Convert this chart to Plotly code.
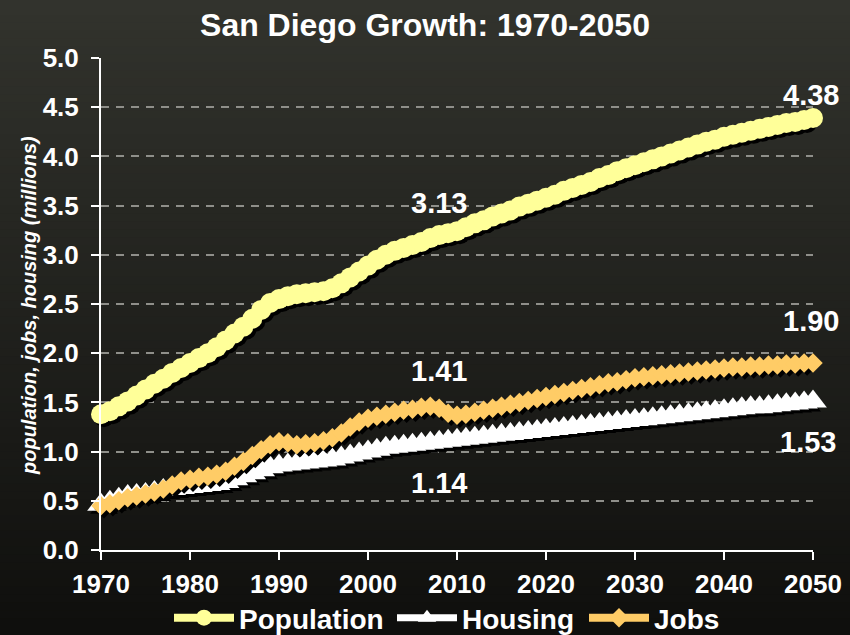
import plotly.graph_objects as go

years = list(range(1970, 2051))

population = [
    1.38, 1.41, 1.46, 1.51, 1.57, 1.63, 1.69, 1.74, 1.80, 1.85,
    1.90, 1.95, 2.00, 2.06, 2.13, 2.20, 2.27, 2.35, 2.44, 2.51,
    2.55, 2.58, 2.60, 2.61, 2.62, 2.63, 2.66, 2.71, 2.77, 2.83,
    2.89, 2.95, 3.00, 3.04, 3.07, 3.10, 3.13, 3.17, 3.20, 3.22,
    3.24, 3.28, 3.32, 3.35, 3.39, 3.42, 3.45, 3.49, 3.52, 3.55,
    3.58, 3.61, 3.65, 3.68, 3.71, 3.74, 3.78, 3.81, 3.85, 3.88,
    3.91, 3.94, 3.97, 4.00, 4.03, 4.06, 4.09, 4.12, 4.15, 4.17,
    4.20, 4.22, 4.24, 4.26, 4.28, 4.30, 4.32, 4.34, 4.35, 4.37,
    4.39,
]

housing = [
    0.46, 0.49, 0.52, 0.55, 0.56, 0.57, 0.59, 0.61, 0.62, 0.63,
    0.64, 0.65, 0.66, 0.67, 0.69, 0.72, 0.75, 0.78, 0.81, 0.84,
    0.86, 0.87, 0.88, 0.89, 0.90, 0.91, 0.92, 0.94, 0.96, 0.98,
    1.00, 1.02, 1.04, 1.05, 1.06, 1.07, 1.08, 1.09, 1.10, 1.11,
    1.12, 1.13, 1.14, 1.15, 1.16, 1.17, 1.18, 1.19, 1.20, 1.21,
    1.22, 1.23, 1.24, 1.25, 1.26, 1.27, 1.28, 1.29, 1.30, 1.31,
    1.32, 1.33, 1.34, 1.35, 1.36, 1.37, 1.38, 1.39, 1.40, 1.41,
    1.42, 1.43, 1.44, 1.45, 1.45, 1.46, 1.47, 1.48, 1.49, 1.50,
    1.51,
]

jobs = [
    0.45, 0.47, 0.50, 0.53, 0.55, 0.57, 0.59, 0.62, 0.66, 0.70,
    0.72, 0.74, 0.75, 0.77, 0.80, 0.85, 0.90, 0.96, 1.02, 1.07,
    1.10, 1.09, 1.07, 1.08, 1.09, 1.11, 1.14, 1.19, 1.25, 1.30,
    1.34, 1.36, 1.38, 1.40, 1.42, 1.43, 1.45, 1.46, 1.44, 1.39,
    1.37, 1.38, 1.40, 1.42, 1.44, 1.46, 1.48, 1.50, 1.52, 1.54,
    1.56, 1.58, 1.60, 1.62, 1.64, 1.66, 1.68, 1.70, 1.71, 1.73,
    1.75, 1.76, 1.77, 1.78, 1.79, 1.80, 1.81, 1.82, 1.83, 1.84,
    1.85, 1.86, 1.86, 1.87, 1.87, 1.88, 1.88, 1.89, 1.89, 1.90,
    1.90,
]

series_names = ["Population", "Housing", "Jobs"]
x_tick_values = list(range(1970, 2051, 10))
x_tick_labels = [str(v) for v in x_tick_values]
title_text = "San Diego Growth: 1970-2050"
y_title = "population, jobs, housing (millions)"

# labelled callouts: (year, series, text)
callouts = [
    (2050, "Population", "4.38"),
    (2008, "Population", "3.13"),
    (2050, "Jobs", "1.90"),
    (2008, "Jobs", "1.41"),
    (2050, "Housing", "1.53"),
    (2008, "Housing", "1.14"),
]

# ---------------- styling ----------------
W, H = 850, 635
ML, MR, MT, MB = 101, 37, 58, 85
PW, PH = W - ML - MR, H - MT - MB
X0, X1 = 1970, 2050
Y0, Y1 = 0, 5

styles = {
    "Population": dict(color="#FFFF99", symbol="circle", size=20, lw=8),
    "Housing": dict(color="#FFFFFF", symbol="triangle-up", size=24, lw=7),
    "Jobs": dict(color="#FFCC66", symbol="diamond", size=15, lw=8),
}
data_map = {"Population": population, "Housing": housing, "Jobs": jobs}
legend_ids = {"Population": "legend", "Housing": "legend2", "Jobs": "legend3"}
legend_left_px = {"Population": 169, "Housing": 392, "Jobs": 584}
label_shift = {("Population", 2050): 23, ("Population", 2008): 32,
               ("Jobs", 2050): 42, ("Jobs", 2008): 37,
               ("Housing", 2050): -41, ("Housing", 2008): -41}
label_xshift = {("Housing", 2050): -5, ("Population", 2050): -2,
                ("Jobs", 2050): -2}

# shadow offset (pixels -> data units)
sdx = 3 * (X1 - X0) / PW
sdy = 3 * (Y1 - Y0) / PH

fig = go.Figure()
for name in series_names:
    st = styles[name]
    vals = data_map[name]
    fig.add_trace(go.Scatter(
        x=[v + sdx for v in years], y=[v - sdy for v in vals],
        mode="lines+markers", showlegend=False, hoverinfo="skip",
        line=dict(color="#000000", width=st["lw"]),
        marker=dict(color="#000000", symbol=st["symbol"], size=st["size"],
                    line=dict(width=0)),
        cliponaxis=False,
    ))
    fig.add_trace(go.Scatter(
        x=years, y=vals, name=name, mode="lines+markers",
        legend=legend_ids[name],
        line=dict(color=st["color"], width=st["lw"]),
        marker=dict(color=st["color"], symbol=st["symbol"], size=st["size"],
                    line=dict(width=0)),
        cliponaxis=False,
    ))

for yr, name, txt in callouts:
    idx = years.index(yr)
    fig.add_annotation(
        x=yr, y=data_map[name][idx], text=txt, showarrow=False,
        yshift=label_shift[(name, yr)], xshift=label_xshift.get((name, yr), 0),
        font=dict(family="Liberation Sans, Arial", size=29, color="#FFFFFF",
                  weight="bold"),
    )

# y-axis title as rotated annotation
fig.add_annotation(
    xref="paper", yref="paper", x=(29 - ML) / PW, y=(550 - 306) / PH,
    text=y_title, textangle=-90, showarrow=False,
    xanchor="center", yanchor="middle",
    font=dict(family="Liberation Sans, Arial", size=20, color="#FFFFFF",
              style="italic", weight="bold"),
)

# background gradient stripes
n = 80
top = (50, 51, 45)
bot = (15, 15, 13)
shapes = []
px0 = -ML / PW
px1 = 1 + MR / PW
for i in range(n):
    t = i / (n - 1)
    c = tuple(int(round(top[k] + (bot[k] - top[k]) * t)) for k in range(3))
    ya = 1 + MT / PH - (H / PH) * i / n
    yb = 1 + MT / PH - (H / PH) * (i + 1) / n
    shapes.append(dict(type="rect", xref="paper", yref="paper",
                       x0=px0, x1=px1, y0=yb - 0.002, y1=ya + 0.002,
                       fillcolor="rgb(%d,%d,%d)" % c, line=dict(width=0),
                       layer="below"))

tick_font = dict(family="Liberation Sans, Arial", size=26, color="#FFFFFF",
                 weight="bold")
legend_font = dict(family="Liberation Sans, Arial", size=28, color="#FFFFFF",
                   weight="bold")

legend_layouts = {}
for name in series_names:
    legend_layouts[legend_ids[name]] = dict(
        orientation="h", x=(legend_left_px[name] - ML) / PW, xanchor="left",
        y=-(618 - MT - PH) / PH, yanchor="middle",
        bgcolor="rgba(0,0,0,0)", itemwidth=60, font=legend_font,
    )

fig.update_layout(
    width=W, height=H,
    margin=dict(l=ML, r=MR, t=MT, b=MB, pad=0, autoexpand=False),
    paper_bgcolor="#222220", plot_bgcolor="rgba(0,0,0,0)",
    shapes=shapes,
    title=dict(text=title_text, x=0.5, xref="container", xanchor="center",
               y=1 - 25 / H, yanchor="middle",
               font=dict(family="Liberation Sans, Arial", size=32,
                         color="#FFFFFF", weight="bold")),
    xaxis=dict(range=[X0, X1], tickvals=x_tick_values, ticktext=x_tick_labels,
               showgrid=False, zeroline=False, showline=True,
               linecolor="#FFFFFF", linewidth=2, ticks="outside",
               ticklen=8, tickwidth=2, tickcolor="#FFFFFF",
               tickfont=tick_font, ticklabelstandoff=2),
    yaxis=dict(range=[Y0, Y1], dtick=0.5, tick0=0, tickformat=".1f",
               showgrid=True, gridcolor="#8f8f8a", gridwidth=1.5,
               griddash="8px,7px", zeroline=False, showline=True,
               linecolor="#FFFFFF", linewidth=2, ticks="outside",
               ticklen=8, tickwidth=2, tickcolor="#FFFFFF",
               tickfont=tick_font, ticklabelstandoff=7),
    showlegend=True,
    **legend_layouts,
)

fig.write_html(
    "out.html",
    config={"displayModeBar": False},
    post_script=(
        "document.documentElement.style.margin='0';"
        "document.body.style.margin='0';"
        "document.body.style.overflow='hidden';"
        "document.body.style.background='#111110';"
    ),
)
